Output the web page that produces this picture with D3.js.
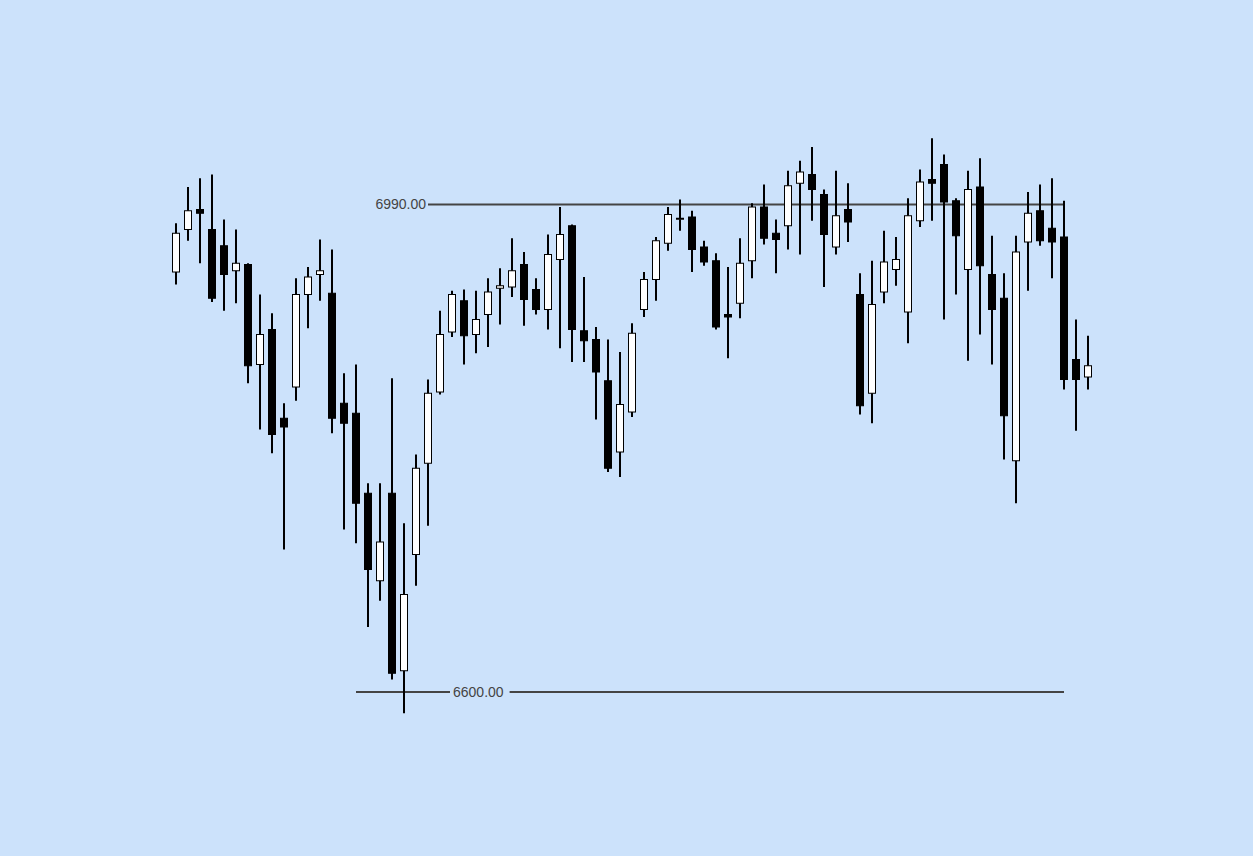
<!DOCTYPE html>
<html><head><meta charset="utf-8">
<script src="https://cdn.jsdelivr.net/npm/d3@7"></script>
<style>html,body{margin:0;padding:0;background:#cce2fb;}svg{display:block;}</style>
</head><body>
<svg id="chart" width="1253" height="856"></svg>
<script>
const opens  = [6936,6970,6986,6970,6957,6937,6942,6862,6890,6819,6844,6918,6934,6919,6831,6823,6759,6689,6759,6617,6710,6783,6840,6888,6913,6886,6902,6923,6924,6942,6922,6906,6946,6973,6889,6882,6849,6792,6824,6906,6930,6959,6979,6980,6956,6945,6902,6911,6945,6988,6967,6973,7007,7014,6998,6956,6986,6918,6839,6920,6938,6904,6977,7010,7022,6993,6938,7004,6934,6915,6785,6960,6985,6971,6964,6866,6852];
const highs  = [6975,7004,7011,7014,6978,6970,6943,6918,6903,6831,6931,6940,6962,6954,6855,6862,6767,6767,6851,6735,6790,6850,6905,6921,6922,6921,6931,6939,6963,6952,6931,6966,6988,6974,6932,6892,6882,6872,6895,6936,6964,6988,6994,6985,6961,6951,6940,6963,6991,7006,6978,7017,7025,7036,7002,7017,7007,6935,6945,6969,6964,6995,7018,7043,7030,6995,7017,7027,6965,6935,6965,7000,7006,7011,6993,6898,6885];
const lows   = [6926,6961,6943,6912,6905,6911,6847,6810,6791,6714,6833,6891,6913,6807,6730,6719,6652,6673,6610,6583,6685,6733,6838,6884,6862,6871,6876,6894,6916,6893,6902,6890,6875,6864,6864,6818,6776,6772,6820,6900,6913,6953,6969,6936,6941,6890,6867,6899,6931,6958,6935,6954,6950,6977,6924,6950,6960,6822,6815,6911,6925,6879,6972,6977,6898,6918,6865,6886,6862,6786,6751,6921,6957,6931,6842,6809,6842];
const closes = [6967,6985,6983,6915,6934,6943,6861,6886,6806,6812,6918,6932,6937,6819,6815,6751,6698,6720,6615,6678,6779,6839,6886,6918,6885,6898,6920,6925,6937,6914,6906,6950,6966,6890,6881,6856,6779,6830,6887,6930,6961,6982,6979,6954,6944,6892,6900,6943,6988,6963,6962,7005,7016,7002,6966,6981,6976,6829,6910,6944,6946,6981,7008,7007,6992,6965,7002,6941,6906,6821,6952,6983,6961,6960,6850,6850,6861];
const levelPrices = [6990, 6600];
const levelStarts = [21, 15];
const levelEnds   = [74, 74];
const levelLabels = ["6990.00", "6600.00"];

const candles = opens.map((o,i)=>({i, o, h:highs[i], l:lows[i], c:closes[i]}));
const svg = d3.select("#chart");
svg.append("rect").attr("width",1253).attr("height",856).attr("fill","#cce2fb");

const x = d3.scaleLinear().domain([0, candles.length-1]).range([176, 1088]);
const y = d3.scaleLinear().domain([6600, 6990]).range([692, 204.5]);

const lineColor = "#444";
// levels
const lv = svg.append("g");
levelPrices.forEach((p,k)=>{
  const x0 = x(levelStarts[k]), x1 = x(levelEnds[k]), yy = y(p);
  if (k===0) {
    lv.append("line").attr("x1",x0).attr("x2",x1).attr("y1",yy).attr("y2",yy)
      .attr("stroke",lineColor).attr("stroke-width",2);
    lv.append("text").attr("x",x0-2).attr("y",yy).attr("dy","0.35em")
      .attr("text-anchor","end").attr("font-family","Liberation Sans, Arial, sans-serif")
      .attr("font-size",14).attr("fill","#444").text(levelLabels[k]);
  } else {
    const tx = x(23) + 1;
    const t = lv.append("text").attr("x",tx).attr("y",yy).attr("dy","0.35em")
      .attr("font-family","Liberation Sans, Arial, sans-serif")
      .attr("font-size",14).attr("fill","#444").text(levelLabels[k]);
    const w = t.node().getComputedTextLength();
    lv.insert("line","text").attr("x1",x0).attr("x2",tx-3).attr("y1",yy).attr("y2",yy)
      .attr("stroke",lineColor).attr("stroke-width",2);
    lv.insert("line","text").attr("x1",tx+w+6).attr("x2",x1).attr("y1",yy).attr("y2",yy)
      .attr("stroke",lineColor).attr("stroke-width",2);
  }
});

const g = svg.append("g");
const cs = g.selectAll("g.c").data(candles).enter().append("g");
cs.append("line")
  .attr("x1",d=>Math.round(x(d.i))).attr("x2",d=>Math.round(x(d.i)))
  .attr("y1",d=>y(d.h)).attr("y2",d=>y(d.l))
  .attr("stroke","#000").attr("stroke-width",2);
cs.append("rect")
  .attr("x",d=>Math.round(x(d.i))-3.5)
  .attr("width",7)
  .attr("y",d=>y(Math.max(d.o,d.c)))
  .attr("height",d=>Math.max(1, Math.abs(y(d.o)-y(d.c))))
  .attr("fill",d=>d.c>=d.o ? "#fff" : "#000")
  .attr("stroke","#000").attr("stroke-width",1);
</script>
</body></html>
